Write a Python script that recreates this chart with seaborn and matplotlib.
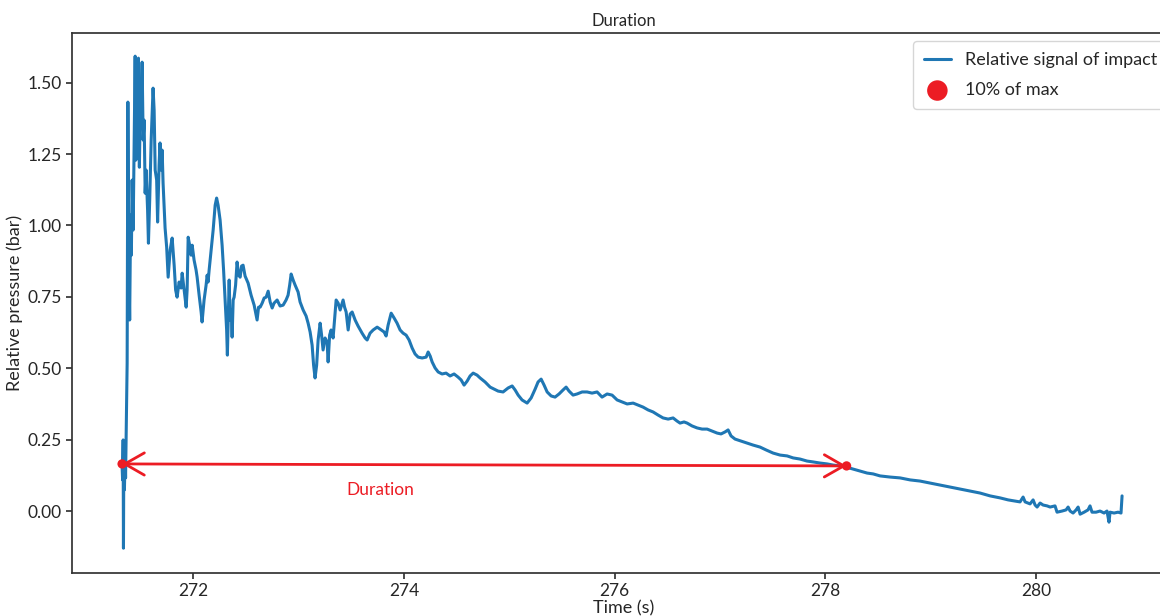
import matplotlib
matplotlib.use("Agg")
import matplotlib.pyplot as plt
import numpy as np
import pandas as pd
import seaborn as sns

# signal (time in s, relative pressure in bar)
time_s = [
    271.326, 271.331, 271.336, 271.339, 271.342, 271.348, 271.355, 271.359, 271.374,
    271.381, 271.388, 271.398, 271.407, 271.414, 271.421, 271.431, 271.440, 271.450,
    271.457, 271.466, 271.473, 271.481, 271.490, 271.500, 271.507, 271.516, 271.526,
    271.535, 271.545, 271.554, 271.568, 271.576, 271.588, 271.602, 271.620, 271.630,
    271.640, 271.654, 271.663, 271.677, 271.686, 271.696, 271.706, 271.715, 271.734,
    271.749, 271.763, 271.782, 271.801, 271.820, 271.834, 271.848, 271.867, 271.886,
    271.896, 271.915, 271.934, 271.943, 271.953, 271.967, 271.981, 271.991, 272.009,
    272.028, 272.038, 272.057, 272.076, 272.085, 272.104, 272.123, 272.133, 272.142,
    272.152, 272.171, 272.190, 272.209, 272.223, 272.237, 272.256, 272.275, 272.289,
    272.304, 272.318, 272.325, 272.335, 272.342, 272.351, 272.361, 272.370, 272.380,
    272.389, 272.403, 272.417, 272.432, 272.446, 272.460, 272.474, 272.493, 272.522,
    272.550, 272.579, 272.607, 272.621, 272.636, 272.655, 272.674, 272.693, 272.712,
    272.731, 272.750, 272.768, 272.797, 272.825, 272.854, 272.882, 272.901, 272.916,
    272.930, 272.949, 272.968, 272.996, 273.015, 273.044, 273.072, 273.091, 273.110,
    273.129, 273.143, 273.157, 273.172, 273.186, 273.205, 273.219, 273.233, 273.252,
    273.271, 273.281, 273.295, 273.309, 273.328, 273.342, 273.357, 273.376, 273.395,
    273.409, 273.423, 273.437, 273.452, 273.471, 273.490, 273.509, 273.537, 273.565,
    273.603, 273.632, 273.651, 273.679, 273.708, 273.746, 273.774, 273.812, 273.831,
    273.850, 273.879, 273.907, 273.935, 273.964, 273.992, 274.021, 274.049, 274.078,
    274.106, 274.135, 274.173, 274.211, 274.230, 274.249, 274.268, 274.296, 274.325,
    274.362, 274.400, 274.438, 274.476, 274.514, 274.543, 274.571, 274.600, 274.628,
    274.657, 274.694, 274.723, 274.770, 274.818, 274.856, 274.894, 274.941, 274.989,
    275.027, 275.055, 275.084, 275.121, 275.169, 275.207, 275.245, 275.273, 275.302,
    275.330, 275.359, 275.397, 275.434, 275.472, 275.510, 275.539, 275.567, 275.605,
    275.643, 275.691, 275.738, 275.785, 275.833, 275.880, 275.928, 275.975, 276.023,
    276.070, 276.118, 276.175, 276.222, 276.269, 276.317, 276.364, 276.412, 276.459,
    276.507, 276.554, 276.592, 276.620, 276.658, 276.687, 276.734, 276.782, 276.829,
    276.877, 276.924, 276.972, 277.009, 277.047, 277.076, 277.104, 277.142, 277.199,
    277.256, 277.313, 277.379, 277.436, 277.503, 277.569, 277.636, 277.693, 277.759,
    277.825, 277.882, 277.949, 278.015, 278.072, 278.138, 278.195, 278.262, 278.328,
    278.395, 278.452, 278.518, 278.613, 278.708, 278.803, 278.897, 278.992, 279.087,
    279.182, 279.277, 279.372, 279.467, 279.562, 279.657, 279.733, 279.799, 279.846,
    279.875, 279.894, 279.941, 279.970, 279.989, 280.008, 280.036, 280.065, 280.103,
    280.131, 280.178, 280.197, 280.245, 280.283, 280.302, 280.321, 280.349, 280.378,
    280.397, 280.416, 280.454, 280.491, 280.510, 280.529, 280.567, 280.605, 280.643,
    280.671, 280.690, 280.700, 280.738, 280.776, 280.804, 280.814,
]
pressure_bar = [
    0.158, 0.109, 0.249, -0.130, 0.144, 0.074, 0.196, 0.116, 0.518,
    1.432, 0.931, 0.669, 1.036, 0.896, 1.159, 0.984, 1.264, 1.593,
    1.229, 1.509, 1.264, 1.586, 1.204, 1.439, 1.369, 1.572, 1.299,
    1.369, 1.113, 1.194, 1.054, 0.938, 1.089, 1.299, 1.481, 1.404,
    1.194, 1.159, 1.012, 1.211, 1.289, 1.194, 1.264, 1.148, 0.991,
    0.924, 0.819, 0.914, 0.956, 0.861, 0.774, 0.749, 0.802, 0.781,
    0.833, 0.774, 0.714, 0.774, 0.959, 0.931, 0.896, 0.931, 0.879,
    0.844, 0.819, 0.756, 0.697, 0.662, 0.739, 0.791, 0.826, 0.802,
    0.844, 0.914, 0.984, 1.071, 1.096, 1.071, 1.019, 0.931, 0.844,
    0.739, 0.634, 0.546, 0.704, 0.809, 0.669, 0.704, 0.609, 0.739,
    0.749, 0.791, 0.872, 0.826, 0.819, 0.858, 0.861, 0.823, 0.798,
    0.756, 0.721, 0.669, 0.714, 0.714, 0.728, 0.746, 0.749, 0.770,
    0.732, 0.711, 0.728, 0.739, 0.718, 0.721, 0.739, 0.756, 0.791,
    0.830, 0.809, 0.791, 0.767, 0.732, 0.704, 0.683, 0.658, 0.627,
    0.581, 0.511, 0.466, 0.511, 0.599, 0.658, 0.616, 0.564, 0.606,
    0.592, 0.522, 0.616, 0.634, 0.606, 0.669, 0.739, 0.728, 0.704,
    0.721, 0.739, 0.714, 0.697, 0.634, 0.690, 0.697, 0.669, 0.648,
    0.623, 0.606, 0.599, 0.623, 0.634, 0.644, 0.637, 0.627, 0.613,
    0.651, 0.693, 0.676, 0.658, 0.634, 0.623, 0.616, 0.599, 0.571,
    0.550, 0.539, 0.536, 0.539, 0.557, 0.543, 0.522, 0.501, 0.487,
    0.480, 0.483, 0.473, 0.480, 0.469, 0.459, 0.441, 0.455, 0.473,
    0.483, 0.476, 0.466, 0.452, 0.434, 0.427, 0.420, 0.417, 0.431,
    0.438, 0.424, 0.406, 0.389, 0.378, 0.396, 0.427, 0.452, 0.462,
    0.441, 0.417, 0.403, 0.399, 0.410, 0.424, 0.434, 0.420, 0.406,
    0.410, 0.417, 0.417, 0.413, 0.417, 0.399, 0.410, 0.406, 0.389,
    0.382, 0.375, 0.378, 0.371, 0.364, 0.354, 0.347, 0.336, 0.326,
    0.322, 0.326, 0.315, 0.308, 0.312, 0.308, 0.298, 0.291, 0.287,
    0.287, 0.280, 0.273, 0.270, 0.277, 0.284, 0.263, 0.252, 0.245,
    0.238, 0.231, 0.224, 0.214, 0.203, 0.196, 0.193, 0.186, 0.182,
    0.175, 0.172, 0.168, 0.165, 0.161, 0.158, 0.154, 0.147, 0.140,
    0.133, 0.130, 0.123, 0.119, 0.116, 0.109, 0.105, 0.098, 0.091,
    0.084, 0.077, 0.070, 0.063, 0.053, 0.046, 0.039, 0.035, 0.032,
    0.049, 0.032, 0.025, 0.039, 0.021, 0.014, 0.028, 0.021, 0.018,
    0.014, 0.018, -0.004, 0.000, 0.004, 0.014, 0.000, -0.007, 0.004,
    0.014, -0.011, -0.004, 0.004, 0.018, -0.004, -0.004, 0.000, -0.007,
    0.000, -0.039, -0.004, -0.007, -0.004, -0.007, 0.053,
]

# the two 10%-of-max crossings
marker_time = [271.326, 278.200]
marker_value = [0.165, 0.158]

BLUE = "#1f77b4"
RED = "#ec1c24"

sns.set_theme(style="ticks")
plt.rcParams["font.family"] = ["Lato", "DejaVu Sans"]

signal = pd.DataFrame({"time": time_s, "pressure": pressure_bar})
markers = pd.DataFrame({"time": marker_time, "pressure": marker_value})

fig = plt.figure(figsize=(11.6, 6.16), dpi=100)
# the reference is cropped on the right, so the axes run past the figure edge
ax = fig.add_axes([0.062, 0.0698, 0.951, 0.8766])

sns.lineplot(data=signal, x="time", y="pressure", ax=ax, color=BLUE, linewidth=2.2,
             estimator=None, sort=False, label="Relative signal of impact")
sns.scatterplot(data=markers, x="time", y="pressure", ax=ax, color=RED, s=45,
                edgecolor="none", zorder=5, label="10% of max")

ax.annotate("", xy=(marker_time[0], marker_value[0]), xytext=(marker_time[1], marker_value[1]),
            arrowprops=dict(arrowstyle="<->,head_length=0.7,head_width=0.4",
                            color=RED, lw=2, mutation_scale=20, shrinkA=0, shrinkB=0),
            zorder=4)
ax.text(273.78, 0.074, "Duration", color=RED, fontsize=12.5, ha="center", va="center")

ax.set_xlim(270.85, 281.317)
ax.set_ylim(-0.217, 1.674)
ax.set_xticks(np.arange(272, 281, 2))
ax.set_yticks(np.arange(0, 1.51, 0.25))
ax.yaxis.set_major_formatter(matplotlib.ticker.StrMethodFormatter("{x:.2f}"))
ax.tick_params(labelsize=12.5, length=4, color="#333333")
for spine in ax.spines.values():
    spine.set_visible(True)
    spine.set_color("#333333")

ax.set_title("Duration", fontsize=12, pad=5)
ax.set_xlabel("Time (s)", fontsize=13, labelpad=1)
ax.set_ylabel("Relative pressure (bar)", fontsize=13, labelpad=3)

leg = ax.legend(loc="upper left", bbox_to_anchor=(913 / 1160, 1 - 41 / 616),
                bbox_transform=fig.transFigure, borderaxespad=0, fontsize=13,
                handlelength=1.5, labelspacing=0.8, borderpad=0.6, markerscale=2.2,
                frameon=True, fancybox=True)
leg.get_frame().set_edgecolor("#cccccc")

fig.savefig("out.png", dpi=100)
